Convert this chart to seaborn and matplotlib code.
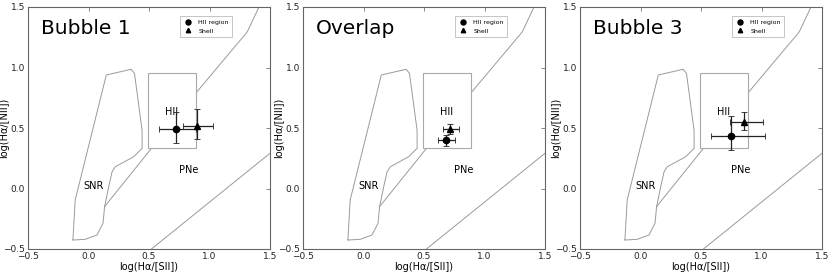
import matplotlib
matplotlib.use("Agg")
import matplotlib.pyplot as plt
import matplotlib.patches as mpatches
import seaborn as sns

sns.set_style("white")
plt.rcParams['font.family'] = ['DejaVu Sans']
plt.rcParams['text.color'] = 'black'
plt.rcParams['axes.labelcolor'] = 'black'

panels = ["Bubble 1", "Overlap", "Bubble 3"]

# HII region points (circle) and shell points (triangle), per panel
hii_x = [0.726, 0.683, 0.748]
hii_y = [0.494, 0.398, 0.436]
hii_xlo = [0.145, 0.07, 0.165]
hii_xhi = [0.16, 0.07, 0.28]
hii_ylo = [0.12, 0.045, 0.118]
hii_yhi = [0.14, 0.045, 0.163]

shell_x = [0.895, 0.718, 0.858]
shell_y = [0.515, 0.488, 0.547]
shell_xlo = [0.11, 0.065, 0.115]
shell_xhi = [0.13, 0.072, 0.156]
shell_ylo = [0.11, 0.04, 0.064]
shell_yhi = [0.14, 0.042, 0.083]

# diagnostic region boundaries
snr_x = [-0.129, -0.110, 0.147, 0.352, 0.380, 0.443, 0.443, 0.374, 0.222, 0.195,
         0.167, 0.133, 0.120, 0.070, -0.027, -0.129]
snr_y = [-0.426, -0.095, 0.938, 0.985, 0.952, 0.480, 0.332, 0.263, 0.180, 0.139,
         0.015, -0.150, -0.288, -0.384, -0.420, -0.426]
upper_x = [0.133, 0.885, 1.312, 1.409]
upper_y = [-0.150, 0.786, 1.294, 1.500]
lower_x = [0.52, 1.50]
lower_y = [-0.50, 0.291]
box_x = [0.493, 0.89]
box_y = [0.332, 0.956]

fig = plt.figure(figsize=(8.3, 2.73), dpi=100)
lefts = [28 / 830, 303 / 830, 580 / 830]

for i, name in enumerate(panels):
    ax = fig.add_axes([lefts[i], 24 / 273, 242 / 830, 242 / 273])
    sns.lineplot(x=snr_x, y=snr_y, sort=False, ax=ax, color="#9a9a9a", lw=0.7, estimator=None)
    sns.lineplot(x=upper_x, y=upper_y, sort=False, ax=ax, color="#9a9a9a", lw=0.7, estimator=None)
    sns.lineplot(x=lower_x, y=lower_y, sort=False, ax=ax, color="#9a9a9a", lw=0.7, estimator=None)
    ax.add_patch(mpatches.Rectangle((box_x[0], box_y[0]), box_x[1] - box_x[0], box_y[1] - box_y[0],
                                    facecolor="white", edgecolor="#a8a8a8", lw=0.8, zorder=3))

    ax.text(0.69, 0.635, "HII", fontsize=7, ha="center", va="center", zorder=4)
    ax.text(0.04, 0.02, "SNR", fontsize=7, ha="center", va="center", zorder=4)
    ax.text(0.83, 0.155, "PNe", fontsize=7, ha="center", va="center", zorder=4)

    ax.errorbar([hii_x[i]], [hii_y[i]], xerr=[[hii_xlo[i]], [hii_xhi[i]]],
                yerr=[[hii_ylo[i]], [hii_yhi[i]]], fmt="o", color="black", ms=4.5,
                ecolor="#222222", elinewidth=0.9, capsize=2, capthick=0.6,
                label="HII region", zorder=5)
    ax.errorbar([shell_x[i]], [shell_y[i]], xerr=[[shell_xlo[i]], [shell_xhi[i]]],
                yerr=[[shell_ylo[i]], [shell_yhi[i]]], fmt="^", color="black", ms=4,
                ecolor="#222222", elinewidth=0.9, capsize=2, capthick=0.6,
                label="Shell", zorder=5)

    ax.set_xlim(-0.5, 1.5)
    ax.set_ylim(-0.5, 1.5)
    ax.set_xticks([-0.5, 0.0, 0.5, 1.0, 1.5])
    ax.set_yticks([-0.5, 0.0, 0.5, 1.0, 1.5])
    ax.tick_params(direction="in", length=3, width=0.5, labelsize=6.5, top=True, right=True,
                   colors="#555555", labelcolor="#222222", pad=2)
    for s in ax.spines.values():
        s.set_color("#666666")
        s.set_linewidth(0.8)
    ax.set_xlabel("log(Hα/[SII])", fontsize=7, va="center")
    ax.set_ylabel("log(Hα/[NII])", fontsize=7, va="center")
    ax.xaxis.set_label_coords(0.5, -0.075)
    ax.yaxis.set_label_coords(-0.098, 0.5)
    ax.text(0.052, 0.89, name, transform=ax.transAxes, fontsize=14.5, va="baseline")

    h, l = ax.get_legend_handles_labels()
    leg = ax.legend([hh[0] for hh in h], l, loc="upper right", bbox_to_anchor=(0.845, 0.963),
                    borderaxespad=0, fontsize=4.5, numpoints=1, markerscale=0.8,
                    fancybox=False, framealpha=1, edgecolor="#bbbbbb", handletextpad=1.0,
                    borderpad=0.6, labelspacing=0.5, handlelength=1.3)
    leg.get_frame().set_linewidth(0.6)

fig.savefig("out.png", dpi=100)
